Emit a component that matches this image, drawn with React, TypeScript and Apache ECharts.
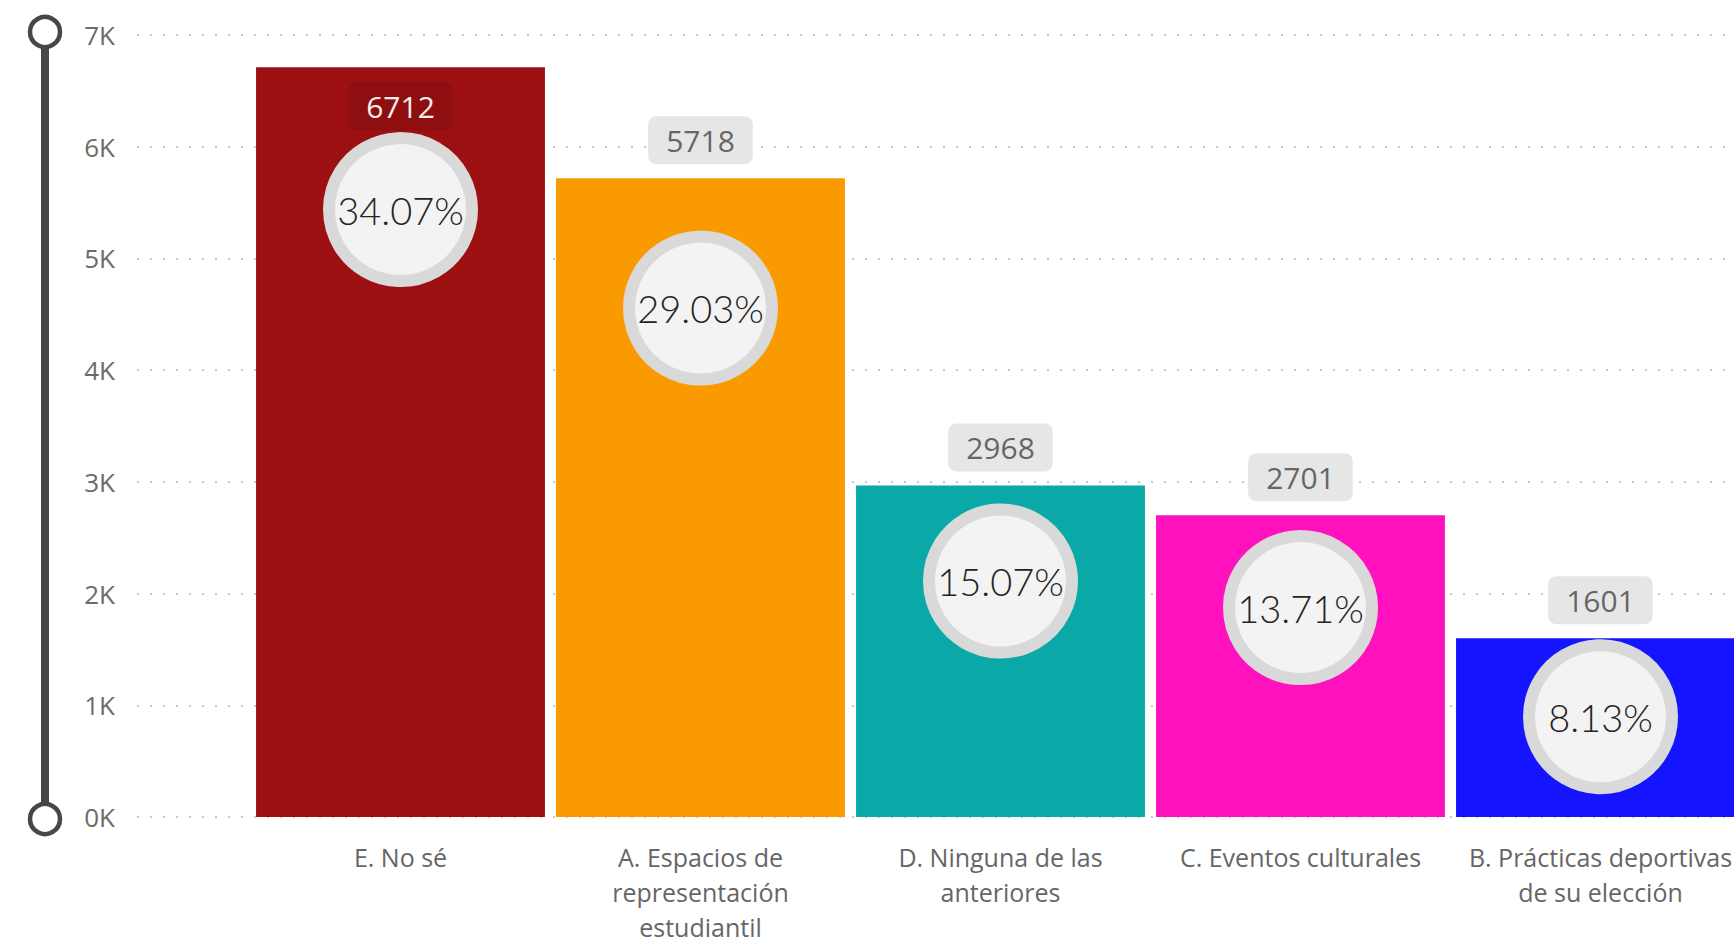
import React, { useEffect, useRef } from "react";
import * as echarts from "echarts";

const categories = [
  "E. No sé",
  "A. Espacios de representación estudiantil",
  "D. Ninguna de las anteriores",
  "C. Eventos culturales",
  "B. Prácticas deportivas de su elección",
];
const axisLabels = [
  "E. No sé",
  "A. Espacios de\nrepresentación\nestudiantil",
  "D. Ninguna de las\nanteriores",
  "C. Eventos culturales",
  "B. Prácticas deportivas\nde su elección",
];
const counts = [6712, 5718, 2968, 2701, 1601];
const shares = [34.07, 29.03, 15.07, 13.71, 8.13];
const barColors = ["#9C1012", "#F89A00", "#0AA9A8", "#FF12BD", "#1414FF"];
const yMin = 0;
const yMax = 7000;
const yInterval = 1000;
const shareMin = 3;
const shareMax = 43;

const FONT = "'Open Sans', 'Noto Sans', sans-serif";
const LIGHT_FONT = "Lato, 'Open Sans', sans-serif";

export default function App() {
  const ref = useRef<HTMLDivElement>(null);

  useEffect(() => {
    if (!ref.current) return;
    const chart = echarts.init(ref.current, undefined, { renderer: "svg" });

    const barData = counts.map((v, i) => {
      const inside = v + 600 > yMax;
      const item: any = { name: categories[i], value: v, itemStyle: { color: barColors[i] } };
      if (inside) {
        item.label = {
          position: "insideTop",
          distance: 15,
          color: "#f6eeee",
          backgroundColor: "rgba(0,0,0,0.08)",
        };
      }
      return item;
    });

    const option: any = {
      animation: false,
      backgroundColor: "#ffffff",
      grid: [
        { left: 137, right: 0, top: 35, bottom: 123, outerBoundsMode: "none", containLabel: false },
        { left: 250.5, right: -16.5, top: 35, bottom: 123, outerBoundsMode: "none", containLabel: false },
      ],
      xAxis: [
        { gridIndex: 0, type: "value", show: false, min: 0, max: 1 },
        {
          gridIndex: 1,
          type: "category",
          data: axisLabels,
          axisLine: { show: false },
          axisTick: { show: false },
          axisLabel: {
            interval: 0,
            margin: 22,
            fontSize: 25,
            lineHeight: 35,
            color: "#666666",
            fontFamily: FONT,
          },
        },
      ],
      yAxis: [
        {
          gridIndex: 0,
          type: "value",
          min: yMin,
          max: yMax,
          interval: yInterval,
          axisLine: { show: false },
          axisTick: { show: false },
          axisLabel: {
            margin: 22,
            fontSize: 26,
            color: "#6b6b6b",
            fontFamily: FONT,
            formatter: (v: number) => `${v / 1000}K`,
          },
          splitLine: {
            show: true,
            lineStyle: { color: "#c8c8c8", width: 2, type: [2, 11] },
          },
        },
        { gridIndex: 1, type: "value", min: yMin, max: yMax, show: false },
        { gridIndex: 1, type: "value", min: shareMin, max: shareMax, show: false },
      ],
      series: [
        {
          type: "bar",
          xAxisIndex: 1,
          yAxisIndex: 1,
          barCategoryGap: "3.7%",
          data: barData,
          label: {
            show: true,
            position: "top",
            distance: 14,
            formatter: "{c}",
            fontSize: 30,
            lineHeight: 36,
            color: "#666666",
            fontFamily: FONT,
            backgroundColor: "#e6e6e6",
            borderRadius: 8,
            padding: [6, 18],
          },
          z: 2,
        },
        {
          type: "scatter",
          xAxisIndex: 1,
          yAxisIndex: 2,
          data: shares,
          symbol: "circle",
          symbolSize: 143,
          itemStyle: {
            color: "#f3f3f3",
            borderColor: "#d9d9d9",
            borderWidth: 12,
            opacity: 1,
          },
          label: {
            show: true,
            position: "inside",
            formatter: (p: any) => `${Number(p.value).toFixed(2)}%`,
            fontSize: 38,
            fontWeight: 300,
            color: "#252423",
            fontFamily: LIGHT_FONT,
          },
          z: 5,
        },
      ],
      graphic: [
        {
          type: "line",
          shape: { x1: 45, y1: 47, x2: 45, y2: 804 },
          style: { stroke: "#474747", lineWidth: 8 },
          z: 10,
        },
        {
          type: "circle",
          shape: { cx: 45, cy: 32, r: 15 },
          style: { fill: "#ffffff", stroke: "#474747", lineWidth: 4.5 },
          z: 11,
        },
        {
          type: "circle",
          shape: { cx: 45, cy: 819, r: 15 },
          style: { fill: "#ffffff", stroke: "#474747", lineWidth: 4.5 },
          z: 11,
        },
      ],
    };

    chart.setOption(option);
    return () => chart.dispose();
  }, []);

  return (
    <div
      ref={ref}
      style={{ position: "fixed", left: 0, top: 0, width: 1734, height: 940 }}
    />
  );
}
